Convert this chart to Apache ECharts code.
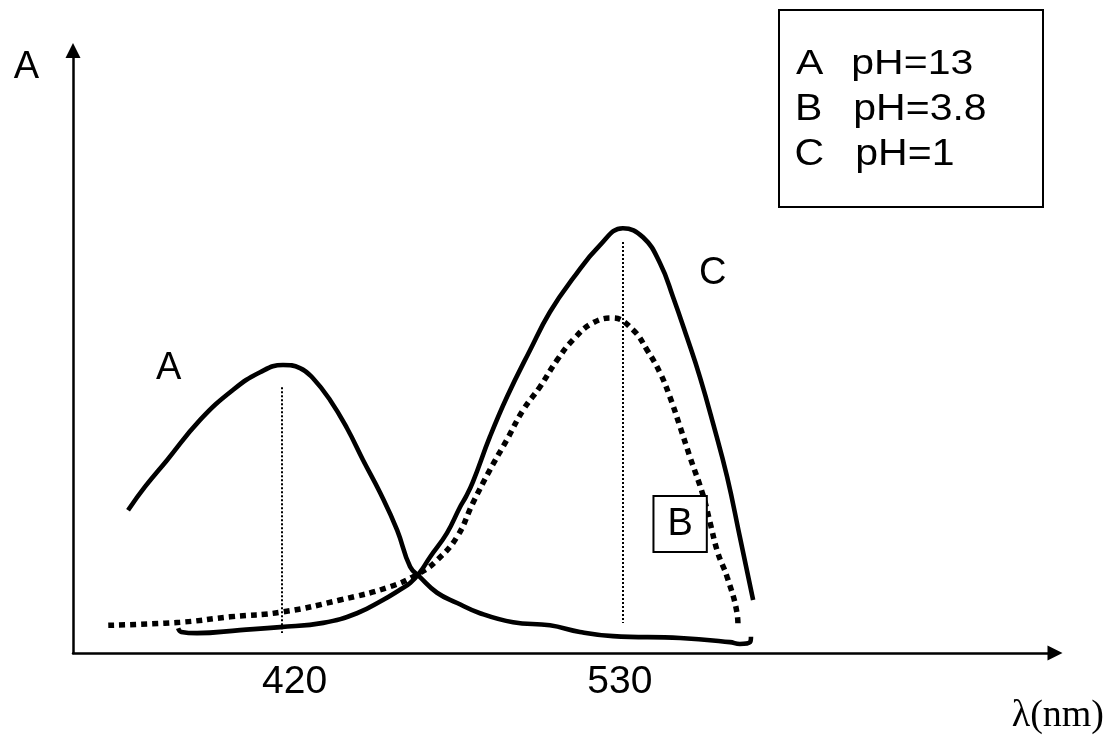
<!DOCTYPE html>
<html><head><meta charset="utf-8">
<script src="https://cdn.jsdelivr.net/npm/echarts@6/dist/echarts.min.js"></script>
<style>html,body{margin:0;padding:0;background:#fff}#chart{width:1108px;height:738px}</style>
</head><body><div id="chart"></div>
<script>
// wavelength (nm), absorbance (arbitrary units)
const curveA = [[370.2,0.237],[375.7,0.276],[382.8,0.320],[393.5,0.387],[404.2,0.437],[412.9,0.466],[420.3,0.478],[425.8,0.473],[430.0,0.456],[435.5,0.420],[441.0,0.373],[446.2,0.320],[451.7,0.266],[457.2,0.204],[461.4,0.143],[464.6,0.126],[470.1,0.100],[476.6,0.083],[484.0,0.066],[494.7,0.051],[506.6,0.046],[516.3,0.035],[527.0,0.028],[548.7,0.025],[564.8,0.018],[568.0,0.015],[571.3,0.018],[571.6,0.027]];
const curveB = [[363.8,0.046],[387.0,0.051],[403.2,0.060],[420.0,0.068],[438.7,0.088],[454.9,0.110],[464.6,0.133],[470.1,0.154],[476.6,0.193],[481.7,0.249],[487.2,0.304],[492.7,0.354],[497.9,0.403],[503.4,0.442],[508.9,0.486],[514.1,0.520],[520.5,0.548],[527.0,0.556],[533.5,0.536],[538.0,0.503],[542.2,0.465],[545.4,0.425],[548.7,0.375],[551.9,0.325],[556.1,0.262],[558.4,0.216],[560.9,0.166],[563.9,0.126],[567.1,0.066],[567.4,0.046]];
const curveC = [[386.4,0.041],[387.4,0.035],[392.5,0.033],[406.4,0.038],[419.4,0.043],[433.3,0.050],[444.2,0.066],[452.6,0.088],[458.1,0.105],[461.4,0.116],[464.6,0.134],[467.8,0.159],[473.3,0.199],[477.5,0.242],[479.5,0.260],[481.7,0.284],[487.2,0.359],[492.7,0.425],[500.2,0.503],[506.6,0.566],[514.1,0.622],[522.8,0.677],[530.2,0.705],[536.7,0.690],[542.2,0.647],[546.4,0.591],[550.9,0.524],[555.1,0.458],[559.3,0.382],[563.9,0.292],[568.0,0.193],[572.3,0.088]];
const tickValues = [420, 530];
const peakLines = [[420, 0.441, 0.033], [530, 0.682, 0.050]]; // [wavelength, top, bottom]
const seriesNames = ['A', 'B', 'C'];
const legendTexts = ['pH=13', 'pH=3.8', 'pH=1'];
const curveLabelPos = [[383.3, 0.473], [548.7, 0.214], [559.2, 0.630]]; // A, B, C label anchors

const SANS = 'Liberation Sans, Arial, sans-serif';
const chart = echarts.init(document.getElementById('chart'), null, {renderer: 'canvas'});
const tri = 'path://M5,0L10,10L0,10Z';

function vline(p) {
  return {
    silent: true, symbol: ['none', 'none'], label: {show: false},
    lineStyle: {color: '#000', width: 2, type: [2, 2]},
    data: [[{coord: [p[0], p[1]]}, {coord: [p[0], p[2]]}]]
  };
}
function mlabel(i, boxed) {
  const lab = {show: true, position: 'inside', formatter: seriesNames[i], color: '#000',
    fontFamily: SANS, fontSize: 38, lineHeight: 38};
  if (boxed) Object.assign(lab, {borderColor: '#000', borderWidth: 2, padding: [8, 13, 8, 13], backgroundColor: '#fff'});
  return {symbol: 'circle', symbolSize: 1, itemStyle: {color: 'rgba(0,0,0,0)'}, silent: true,
    label: lab, data: [{coord: curveLabelPos[i]}]};
}

const legendGraphics = [{type: 'rect', shape: {x: 779, y: 10, width: 264, height: 197},
  style: {fill: '#fff', stroke: '#000', lineWidth: 2}}];
const letterX = [796, 795, 794.5], phX = [851.3, 853.3, 855.3], rowY = [64, 109.7, 154.2], rowScaleY = [0.84, 0.88, 0.92];
seriesNames.forEach((n, i) => {
  [[n, letterX[i]], [legendTexts[i], phX[i]]].forEach(([t, x]) => {
    legendGraphics.push({type: 'text', x: x, y: rowY[i], scaleY: rowScaleY[i],
      style: {text: t, fill: '#000', font: '41px ' + SANS, align: 'left', verticalAlign: 'middle',
        textAlign: 'left', textVerticalAlign: 'middle'}});
  });
});

chart.setOption({
  animation: false,
  backgroundColor: '#fff',
  grid: {left: 73, right: 53, top: 50.5, bottom: 85, outerBoundsMode: 'none', containLabel: false},
  xAxis: {
    type: 'value', min: 352.4, max: 669.9,
    name: 'λ(nm)', nameLocation: 'end', nameGap: 49, nameMoveOverlap: false,
    nameTextStyle: {fontFamily: 'Liberation Serif, Times New Roman, serif', fontSize: 38, color: '#000',
      align: 'right', verticalAlign: 'top', lineHeight: 126},
    axisLine: {show: true, onZero: false, lineStyle: {color: '#000', width: 2.5},
      symbol: ['none', tri], symbolSize: [15, 16]},
    axisTick: {show: false}, splitLine: {show: false},
    axisLabel: {
      customValues: tickValues, margin: 10, color: '#000',
      formatter: v => (v === tickValues[0] ? '{l|' : '{r|') + v + '}',
      rich: {
        l: {fontFamily: SANS, fontSize: 39, color: '#000', padding: [0, 0, 0, 25]},
        r: {fontFamily: SANS, fontSize: 39, color: '#000', padding: [0, 5, 0, 0]}
      }
    }
  },
  yAxis: {
    type: 'value', min: 0, max: 1,
    name: 'A', nameLocation: 'end', nameGap: -17, nameMoveOverlap: false,
    nameTextStyle: {fontFamily: SANS, fontSize: 38, color: '#000', align: 'right', verticalAlign: 'middle',
      padding: [0, 34, 0, 0]},
    axisLine: {show: true, onZero: false, lineStyle: {color: '#000', width: 2.5},
      symbol: ['none', tri], symbolSize: [15, 16]},
    axisTick: {show: false}, splitLine: {show: false}, axisLabel: {show: false}
  },
  series: [
    {name: seriesNames[0], type: 'line', data: curveA, smooth: 0.45, showSymbol: false, silent: true,
      lineStyle: {color: '#000', width: 4.6}, markLine: vline(peakLines[0]), markPoint: mlabel(0, false)},
    {name: seriesNames[1], type: 'line', data: curveB, smooth: 0.45, showSymbol: false, silent: true,
      lineStyle: {color: '#000', width: 5.5, type: [6, 5], cap: 'butt'}, markPoint: mlabel(1, true)},
    {name: seriesNames[2], type: 'line', data: curveC, smooth: 0.45, showSymbol: false, silent: true,
      lineStyle: {color: '#000', width: 4.6}, markLine: vline(peakLines[1]), markPoint: mlabel(2, false)}
  ],
  graphic: legendGraphics
});
</script></body></html>
